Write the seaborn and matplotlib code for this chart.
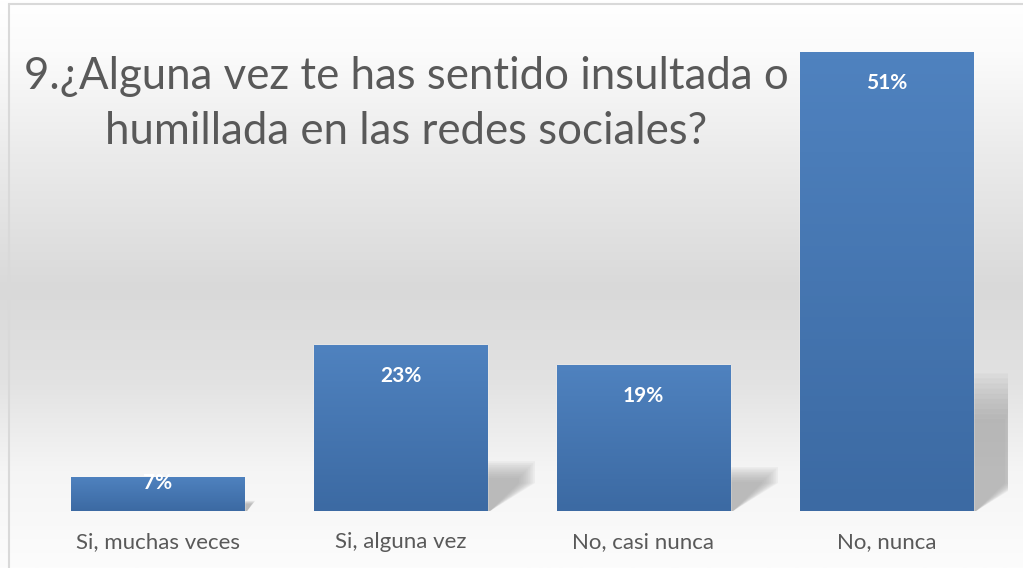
import numpy as np
import matplotlib
matplotlib.use("Agg")
import matplotlib.pyplot as plt
from matplotlib.colors import LinearSegmentedColormap
from matplotlib.patches import Polygon
from matplotlib.lines import Line2D
import pandas as pd
import seaborn as sns

# data (bar heights and their printed labels)
categories = ["Si, muchas veces", "Si, alguna vez", "No, casi nunca", "No, nunca"]
bar_values = [7, 34, 30, 94]
bar_labels = ["7%", "23%", "19%", "51%"]
title = "9.¿Alguna vez te has sentido insultada o\nhumillada en las redes sociales?"

sns.set_theme(style="white")
plt.rcParams["font.family"] = ["Lato", "DejaVu Sans"]

W, H = 1023, 568
fig = plt.figure(figsize=(W / 100, H / 100), dpi=100)

# background gradient (white -> grey -> white)
bg = fig.add_axes([0, 0, 1, 1], zorder=-10)
bg_cmap = LinearSegmentedColormap.from_list(
    "bg", [(0.0, "#ffffff"), (0.09, "#fbfbfb"), (0.27, "#ebebeb"), (0.51, "#d9d9d9"),
           (0.67, "#e2e2e2"), (0.83, "#f5f5f5"), (1.0, "#fcfcfc")])
bg.imshow(np.linspace(0, 1, 256).reshape(-1, 1), aspect="auto", cmap=bg_cmap,
          extent=[0, 1, 0, 1], origin="upper")
bg.set_xlim(0, 1)
bg.set_ylim(0, 1)
bg.axis("off")
# chart frame
fig.add_artist(Line2D([9 / W, 9 / W], [0, 1 - 4 / H], color="#d9d9d9", lw=1.5))
fig.add_artist(Line2D([9 / W, 1], [1 - 4 / H, 1 - 4 / H], color="#d9d9d9", lw=1.5))

ax = fig.add_axes([36 / W, 57 / H, 972 / W, 488 / H])
ax.patch.set_alpha(0)
df = pd.DataFrame({"cat": categories, "val": bar_values})
sns.barplot(data=df, x="cat", y="val", color="#4f81bd", width=0.712, ax=ax,
            saturation=1, zorder=3)
ax.set_xlim(-0.5, 3.5)
ax.set_ylim(0, 100)
sns.despine(ax=ax, left=True, bottom=True)
ax.set_yticks([])
ax.set_xlabel("")
ax.set_ylabel("")
ax.tick_params(axis="x", length=0, pad=15, labelsize=16, labelcolor="#595959")

px_x = 972 / 4.0     # pixels per x unit
px_y = 488 / 100.0   # pixels per y unit

bar_cmap = LinearSegmentedColormap.from_list("bar", ["#4f82bf", "#3c6aa3"])
for patch, lab in zip(ax.patches, bar_labels):
    x0, w, h = patch.get_x(), patch.get_width(), patch.get_height()
    xr = x0 + w
    # soft shadow behind the bar, built from stacked translucent layers
    sh = 0.25 * h
    sw = min(40, 1.1 * sh * px_y) / px_x
    for s in np.linspace(1.2, 0.8, 10):
        top = sh * s
        pts = [(xr, 0), (xr, top), (xr + sw * s, top),
               (xr + sw * s, min(top, 28 / px_y)), (xr + 3 / px_x, 0)]
        ax.add_patch(Polygon(pts, closed=True, facecolor="#9a9a9a", edgecolor="none",
                             alpha=0.09, zorder=1))
    # vertical gradient fill
    im = ax.imshow(np.linspace(0, 1, 64).reshape(-1, 1), cmap=bar_cmap, aspect="auto",
                   extent=[x0, xr, 0, h], origin="upper", zorder=4)
    im.set_clip_path(patch)
    ax.set_xlim(-0.5, 3.5)
    ax.set_ylim(0, 100)
    # value label inside the bar top
    ly = max(h - 31 / px_y, 28 / px_y)
    ax.text(x0 + w / 2, ly, lab, ha="center", va="center", color="white",
            fontsize=15, fontweight="bold", zorder=6)

fig.text(406 / W, 1 - 104 / H, title, ha="center", va="center", fontsize=31.5,
         color="#595959", linespacing=1.45)

fig.savefig("out.png", dpi=100)
